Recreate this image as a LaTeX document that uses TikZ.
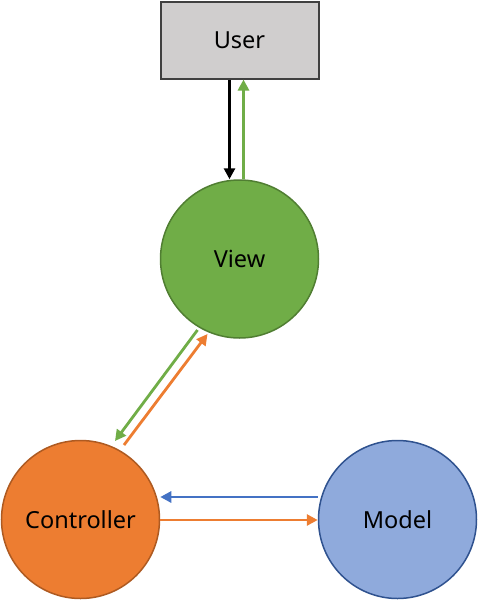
\documentclass[tikz,border=0pt]{standalone}
\usepackage{fontspec}
\setmainfont{Noto Sans}
\usetikzlibrary{arrows.meta}
\definecolor{usergray}{HTML}{D0CECE}
\definecolor{userline}{HTML}{404040}
\definecolor{vgreen}{HTML}{70AD47}
\definecolor{vgreenline}{HTML}{507E32}
\definecolor{corange}{HTML}{ED7D31}
\definecolor{corangeline}{HTML}{AE5A21}
\definecolor{mblue}{HTML}{8FAADC}
\definecolor{mblueline}{HTML}{2F528F}
\definecolor{ablue}{HTML}{4472C4}
\tikzset{
  lbl/.style={font=\fontsize{23.5}{28}\selectfont},
  ball/.style={circle, minimum size=158pt, inner sep=0pt, line width=1.5pt, lbl},
  conn/.style={line width=2.8pt, -{Triangle[length=11pt,width=11pt]}},
}
\begin{document}
\begin{tikzpicture}[x=1pt,y=-1pt]
\useasboundingbox (0,0) rectangle (478,600);
\node[draw=userline, fill=usergray, line width=2pt, minimum width=158pt, minimum height=77pt, inner sep=0pt, lbl] (user) at (239.5,40) {User};
\node[ball, draw=vgreenline, fill=vgreen] (view) at (239.5,259) {View};
\node[ball, draw=corangeline, fill=corange] (ctrl) at (80.5,519.5) {Controller};
\node[ball, draw=mblueline, fill=mblue] (model) at (397.5,519.5) {Model};
% User <-> View
\draw[conn, black] ([shift={(-10,0)}]user.south) -- ([shift={(-10,0)}]view.north);
\draw[conn, vgreen] ([shift={(4,0)}]view.north) -- ([shift={(4,0)}]user.south);
% View <-> Controller
\draw[conn, vgreen] ([shift={(-42,71)}]view.center) -- ([shift={(34.5,-78.5)}]ctrl.center);
\draw[conn, corange] ([shift={(43.5,-74.5)}]ctrl.center) -- ([shift={(-32,75)}]view.center);
% Controller <-> Model
\draw[conn, ablue] ([shift={(0,-22.5)}]model.west) -- ([shift={(0,-22.5)}]ctrl.east);
\draw[conn, corange] ([shift={(0,0.5)}]ctrl.east) -- ([shift={(0,0.5)}]model.west);
\end{tikzpicture}
\end{document}
